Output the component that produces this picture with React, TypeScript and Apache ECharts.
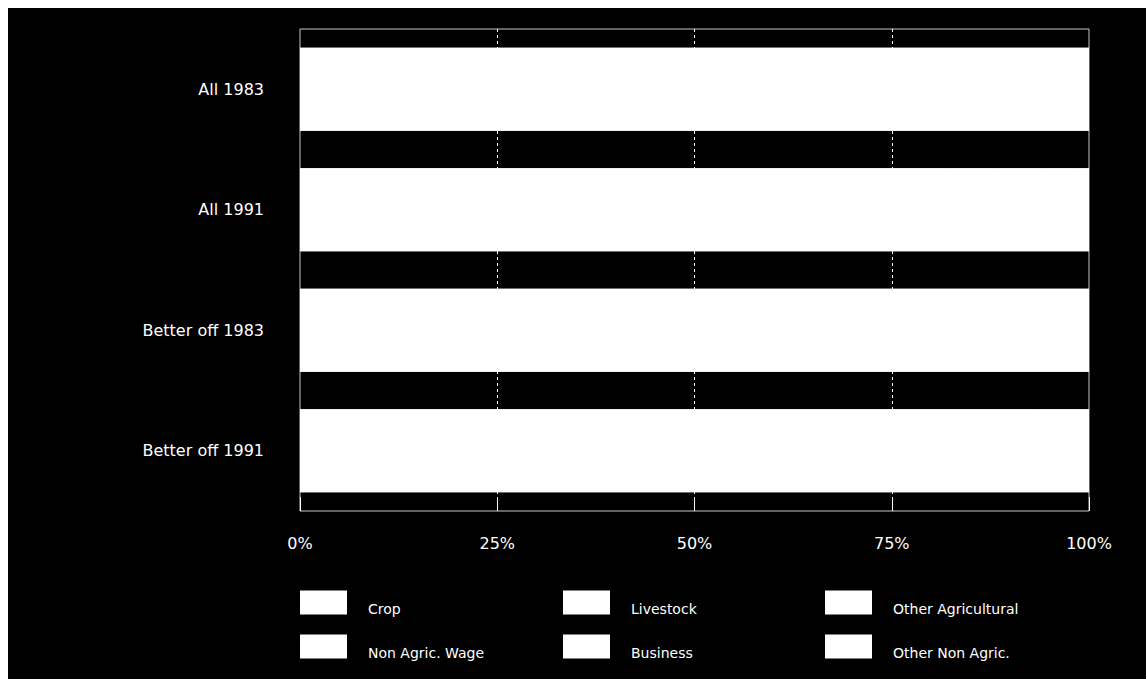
import React, { useEffect, useRef } from "react";
import * as echarts from "echarts";

const categories = ["All 1983", "All 1991", "Better off 1983", "Better off 1991"];
const seriesNames = ["Crop", "Livestock", "Other Agricultural", "Non Agric. Wage", "Business", "Other Non Agric."];
const crop = [54.2, 78.2, 78.1, 81.1];
const livestock = [17.3, 3.6, 7.5, 6.6];
const otherAgricultural = [7.9, 6.3, 6.0, 5.5];
const nonAgricWage = [14.8, 5.8, 6.4, 5.3];
const business = [3.4, 4.3, 1.2, 0.9];
const otherNonAgric = [2.4, 1.8, 0.8, 0.6];
const tickLabels = ["0%", "25%", "50%", "75%", "100%"];

const seriesValues = [crop, livestock, otherAgricultural, nonAgricWage, business, otherNonAgric];

const FONT = "'DejaVu Sans', 'Liberation Sans', Arial, sans-serif";

export default function App() {
  const ref = useRef<HTMLDivElement>(null);
  useEffect(() => {
    document.body.style.overflow = "hidden";
    const chart = echarts.init(ref.current!, undefined, { renderer: "svg" });
    const legendPos = [
      [292, 581], [555, 581], [817, 581],
      [292, 625], [555, 625], [817, 625],
    ];
    chart.setOption({
      animation: false,
      backgroundColor: "#000",
      textStyle: { fontFamily: FONT },
      grid: {
        left: 292,
        top: 21,
        width: 789,
        height: 482,
        show: true,
        borderColor: "#c8c8c8",
        borderWidth: 1,
        backgroundColor: "transparent",
      },
      legend: seriesNames.map((name, i) => ({
        data: [name],
        left: legendPos[i][0],
        top: legendPos[i][1],
        itemWidth: 47,
        itemHeight: 24,
        icon: "rect",
        selectedMode: false,
        padding: 0,
        formatter: (n: string) => "\n" + n,
        textStyle: {
          color: "#fff",
          fontSize: 14,
          lineHeight: 13,
          fontFamily: FONT,
          padding: [0, 0, 0, 16],
        },
      })),
      xAxis: {
        type: "value",
        min: 0,
        max: 100,
        interval: 25,
        axisLine: { show: false },
        axisTick: { show: true, inside: true, length: 14, lineStyle: { color: "#fff" } },
        splitLine: {
          show: true,
          lineStyle: {
            color: ["transparent", "#fff", "#fff", "#fff", "transparent"],
            type: [3, 3],
            width: 1,
          },
        },
        axisLabel: {
          color: "#fff",
          fontSize: 16,
          margin: 24,
          fontFamily: FONT,
          formatter: (v: number) => tickLabels[Math.round(v / 25)] ?? "",
        },
      },
      yAxis: {
        type: "category",
        data: categories,
        inverse: true,
        axisLine: { show: false },
        axisTick: { show: false },
        axisLabel: {
          color: "#fff",
          fontSize: 16,
          margin: 36,
          fontFamily: FONT,
          padding: [8, 0, 0, 0],
        },
      },
      series: seriesNames.map((name, i) => ({
        name,
        type: "bar",
        stack: "total",
        barWidth: 83,
        data: seriesValues[i],
        showBackground: i === 0,
        backgroundStyle: { color: "#fff" },
        itemStyle: { color: "#fff" },
        emphasis: { disabled: true },
      })),
    });
    return () => chart.dispose();
  }, []);
  return (
    <div
      ref={ref}
      style={{ position: "absolute", left: 8, top: 8, width: 1138, height: 671, background: "#000" }}
    />
  );
}
